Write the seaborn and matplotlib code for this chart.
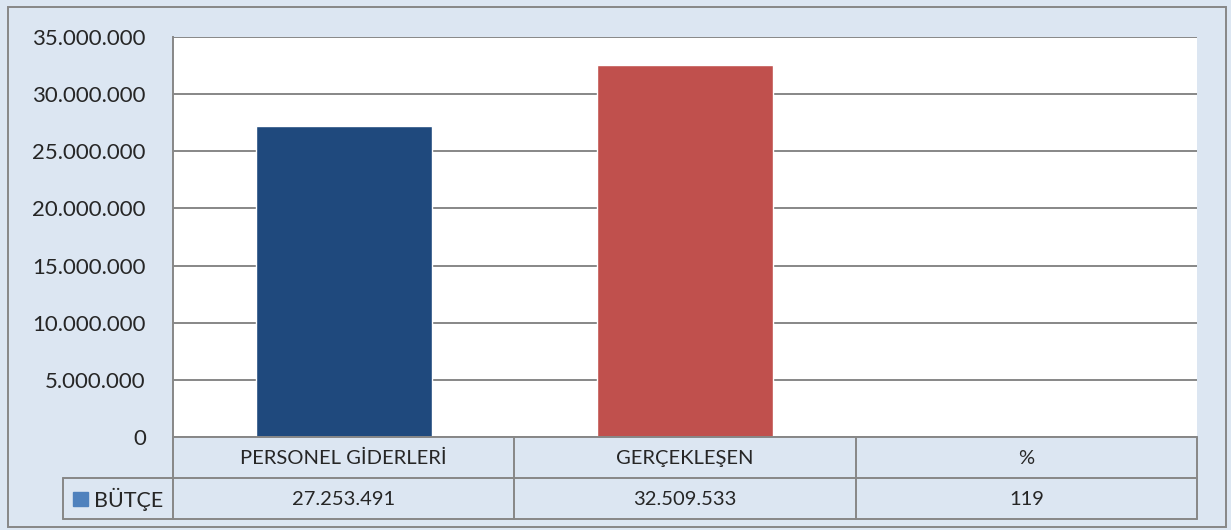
import matplotlib
matplotlib.use("Agg")
import matplotlib.pyplot as plt
import matplotlib.patches as mpatches
from matplotlib.ticker import FuncFormatter
import seaborn as sns
import pandas as pd

categories = ["PERSONEL GİDERLERİ", "GERÇEKLEŞEN", "%"]
values = [27253491, 32509533, 119]
value_labels = ["27.253.491", "32.509.533", "119"]
series_name = "BÜTÇE"
bar_colors = ["#1F497D", "#C0504D", "#9BBB59"]

bg = "#DCE6F2"
line_c = "#878787"

sns.set_style("white")
plt.rcParams["font.family"] = ["Lato", "DejaVu Sans"]

W, H = 1231, 530
fig = plt.figure(figsize=(W / 100, H / 100), dpi=100, facecolor=bg)

def fx(px):
    return px / W

def fy(py):
    return 1 - py / H

L, R, T, B = 173, 1197, 37, 437
ax = fig.add_axes([fx(L), fy(B), fx(R - L), (B - T) / H])
ax.set_facecolor("white")

df = pd.DataFrame({"cat": categories, "val": values})
sns.barplot(data=df, x="cat", y="val", hue="cat", palette=bar_colors,
            width=0.515, legend=False, ax=ax, saturation=1)

ax.set_ylim(0, 35000000)
ax.set_yticks(range(0, 35000001, 5000000))
ax.yaxis.set_major_formatter(FuncFormatter(lambda v, p: f"{int(v):,}".replace(",", ".")))
ax.tick_params(axis="y", length=0, pad=19.5, labelsize=16)
ax.set_xticks([])
ax.set_xlabel("")
ax.set_ylabel("")
ax.grid(axis="y", color=line_c, linewidth=1.4)
ax.set_axisbelow(True)
for s in ["top", "right", "bottom"]:
    ax.spines[s].set_visible(False)
ax.spines["left"].set_color(line_c)
ax.spines["left"].set_linewidth(1.4)

# data table below the plot
row1, row2, row3 = 437, 478, 519
leg_left = 63
col_w = (R - L) / 3

def hline(y, x0, x1):
    fig.add_artist(plt.Line2D([fx(x0), fx(x1)], [fy(y), fy(y)], color=line_c, lw=1.4))

def vline(x, y0, y1):
    fig.add_artist(plt.Line2D([fx(x), fx(x)], [fy(y0), fy(y1)], color=line_c, lw=1.4))

hline(row1, L, R)
hline(row2, leg_left, R)
hline(row3, leg_left, R)
vline(leg_left, row2, row3)
for i in range(4):
    vline(L + i * col_w, row1, row3)

for i, (c, v) in enumerate(zip(categories, value_labels)):
    cx = L + (i + 0.5) * col_w
    fig.text(fx(cx), fy((row1 + row2) / 2 + 1), c, ha="center", va="center", fontsize=14.5)
    fig.text(fx(cx), fy((row2 + row3) / 2 + 1), v, ha="center", va="center", fontsize=14.5)

fig.add_artist(mpatches.Rectangle((fx(73), fy(506)), fx(15), 14 / H, color="#4F81BD"))
fig.text(fx(94), fy((row2 + row3) / 2 + 1), series_name, ha="left", va="center", fontsize=15.5)

# outer border
fig.add_artist(mpatches.Rectangle((fx(8), fy(527)), fx(1218), 520 / H, fill=False,
                                  edgecolor=line_c, lw=1.4))

fig.savefig("out.png", dpi=100, facecolor=bg)
